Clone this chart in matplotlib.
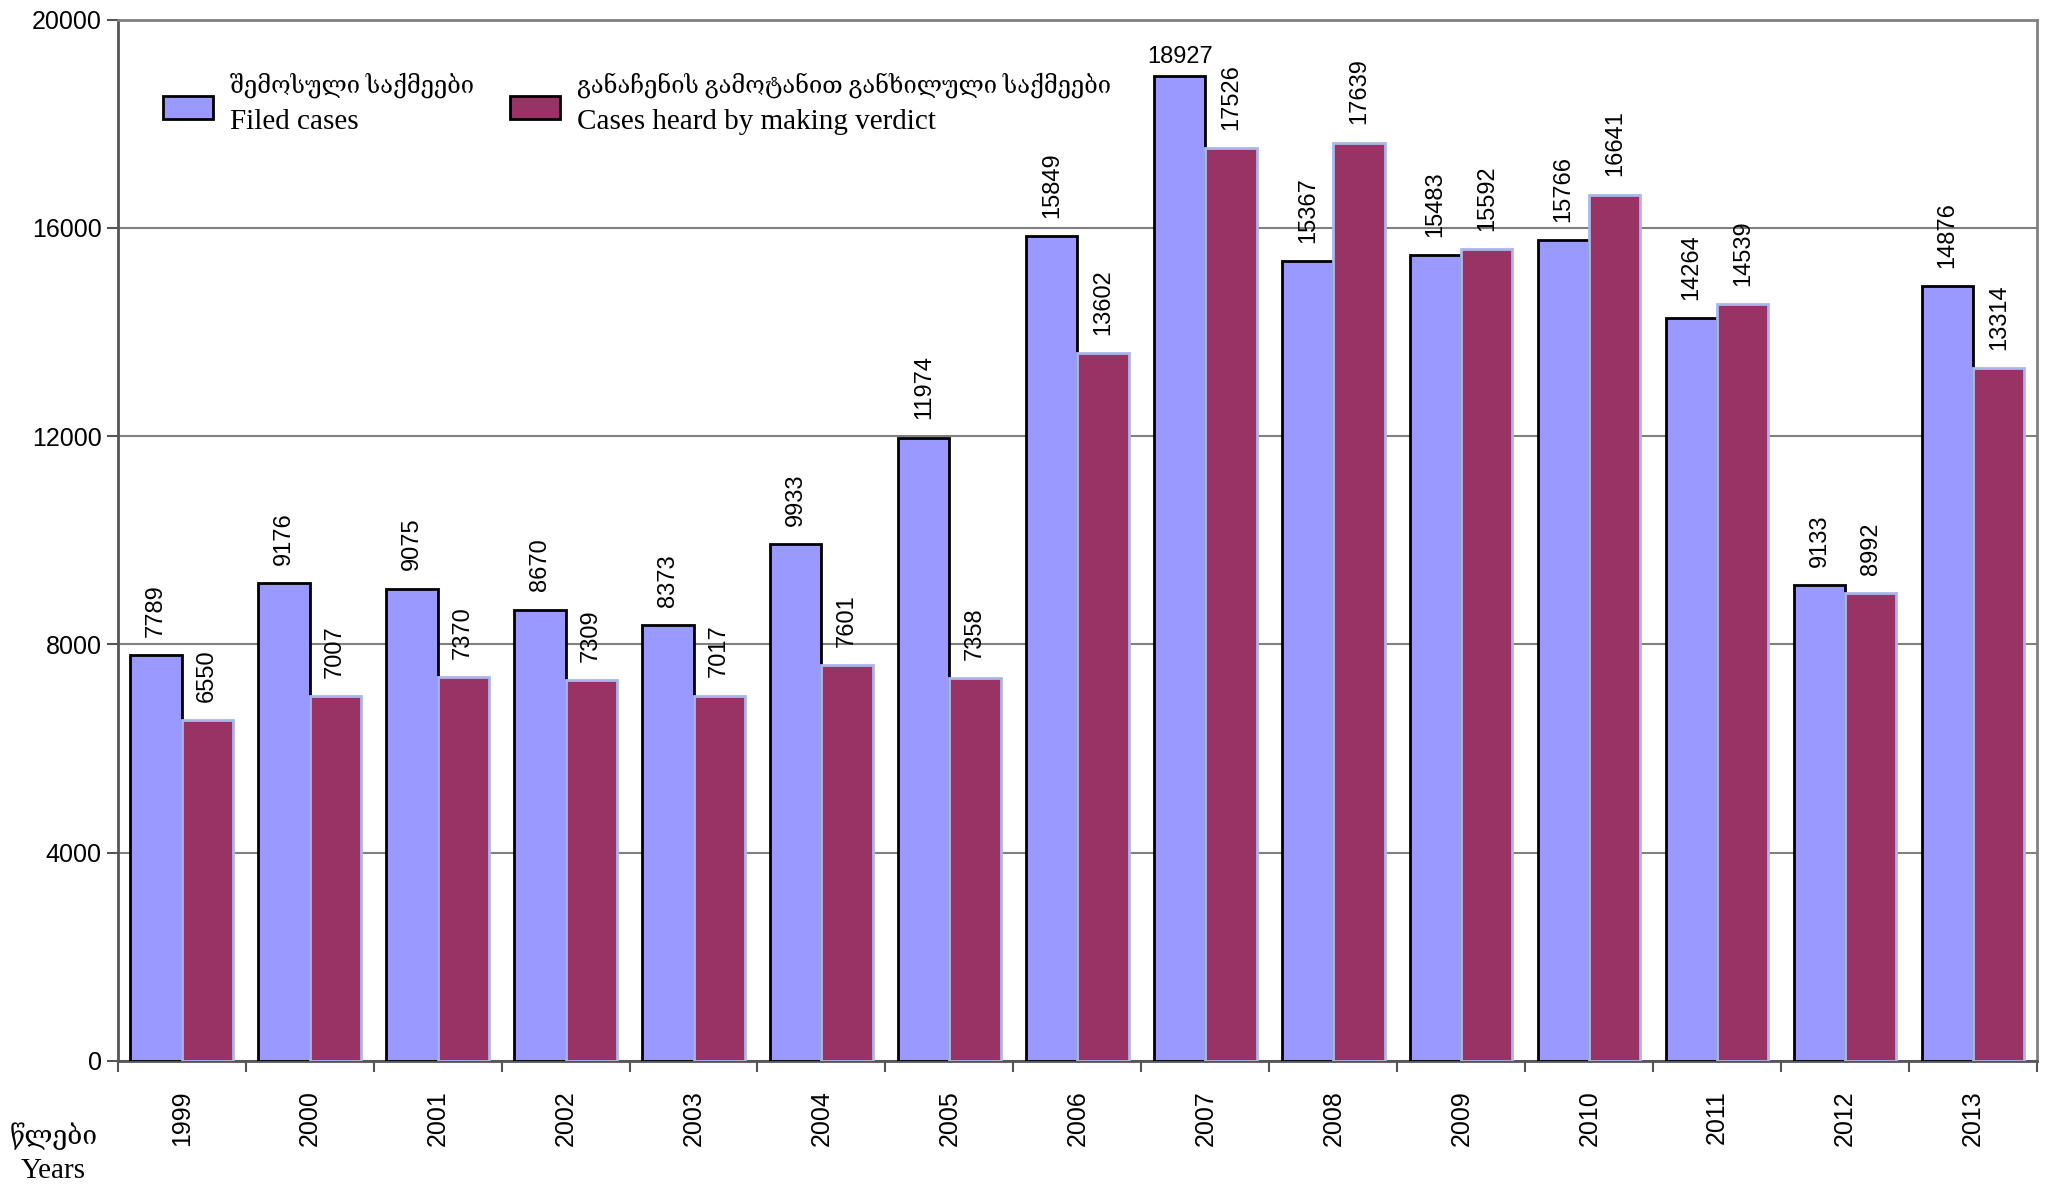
import numpy as np
import matplotlib.pyplot as plt
from matplotlib.patches import Patch

# ===============================
# Data
# ===============================
years = ["1999", "2000", "2001", "2002", "2003", "2004", "2005", "2006",
         "2007", "2008", "2009", "2010", "2011", "2012", "2013"]
filed = [7789, 9176, 9075, 8670, 8373, 9933, 11974, 15849,
         18927, 15367, 15483, 15766, 14264, 9133, 14876]
heard = [6550, 7007, 7370, 7309, 7017, 7601, 7358, 13602,
         17526, 17639, 15592, 16641, 14539, 8992, 13314]

geo_labels = ["შემოსული საქმეები", "განაჩენის გამოტანით განხილული საქმეები"]
eng_labels = ["Filed cases", "Cases heard by making verdict"]

blue = "#9999FF"
purple = "#993366"
serif = ["Liberation Serif", "DejaVu Serif", "DejaVu Sans"]

plt.rcParams["font.family"] = ["Liberation Sans", "DejaVu Sans"]

fig = plt.figure(figsize=(20.64, 11.86), dpi=100)
ax = fig.add_axes([0.057, 0.1054, 0.930, 0.878])

x = np.arange(len(years))
w = 0.4
ax.bar(x - w / 2, filed, w, color=blue, edgecolor="black", linewidth=2, zorder=3)
ax.bar(x + w / 2, heard, w, color=purple, edgecolor="#A8B8E8", linewidth=2, zorder=3)

# value labels
for i in range(len(years)):
    if filed[i] == max(filed):
        ax.text(x[i] - w / 2, filed[i] + 150, str(filed[i]), ha="center", va="bottom",
                fontsize=17, zorder=4)
    else:
        ax.text(x[i] - w / 2, filed[i] + 350, str(filed[i]), ha="center", va="bottom",
                rotation=90, fontsize=17, zorder=4)
    ax.text(x[i] + w / 2, heard[i] + 350, str(heard[i]), ha="center", va="bottom",
            rotation=90, fontsize=17, zorder=4)

# axes styling
ax.set_xlim(-0.5, len(years) - 0.5)
ax.set_ylim(0, 20000)
ax.set_yticks(np.arange(0, 20001, 4000))
ax.tick_params(axis="y", labelsize=18, length=8, width=1.5, color="#555555")
ax.yaxis.grid(True, color="#808080", linewidth=1.5, zorder=0)

ax.set_xticks(x)
ax.set_xticklabels(years, rotation=90, fontsize=18)
ax.tick_params(axis="x", which="major", length=0, pad=21)
ax.set_xticks(np.arange(-0.5, len(years), 1), minor=True)
ax.tick_params(axis="x", which="minor", length=8, width=1.5, color="#555555")

for side in ["top", "right"]:
    ax.spines[side].set_color("#808080")
    ax.spines[side].set_linewidth(2)
for side in ["left", "bottom"]:
    ax.spines[side].set_color("#555555")
    ax.spines[side].set_linewidth(2)

# legend (English line), Georgian line added above it
handles = [Patch(facecolor=blue, edgecolor="black", linewidth=2, label=eng_labels[0]),
           Patch(facecolor=purple, edgecolor="black", linewidth=2, label=eng_labels[1])]
leg = ax.legend(handles=handles, loc="center left", bbox_to_anchor=(0.016, 0.9025), ncol=2,
                frameon=False, prop={"family": serif, "size": 21}, handlelength=1.7,
                handleheight=0.85, handletextpad=0.6, columnspacing=5.2, borderpad=0)
for p in leg.get_patches():
    p.set_y(p.get_y() + 8)

fig.canvas.draw()
inv = ax.transAxes.inverted()
for t, g in zip(leg.get_texts(), geo_labels):
    bb = t.get_window_extent()
    x0, y0 = inv.transform((bb.x0, bb.y1))
    ax.text(x0, y0 + 0.011, g, ha="left", va="bottom", fontsize=17, family=serif,
            transform=ax.transAxes)

# axis caption
fig.text(0.026, 0.042, "წლები", ha="center", va="center", fontsize=19, family=serif)
fig.text(0.026, 0.013, "Years", ha="center", va="center", fontsize=21, family=serif)

plt.savefig("out.png", dpi=100)
